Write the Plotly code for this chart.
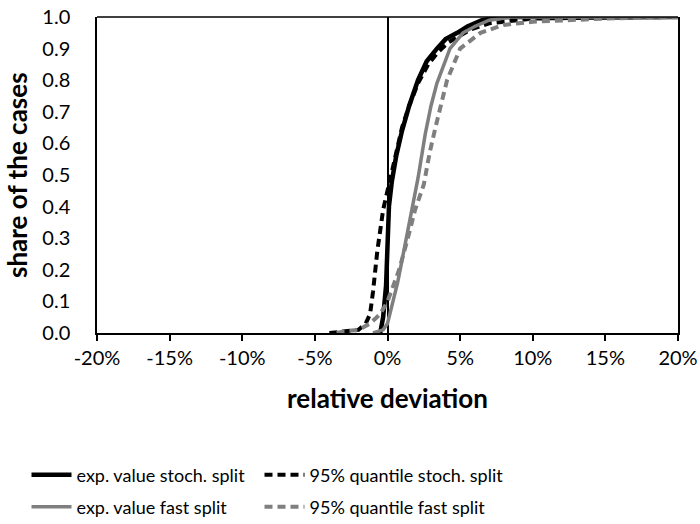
import numpy as np
import plotly.graph_objects as go

# relative deviation in percent, share of the cases
x_exp_stoch = [-0.5, -0.3, -0.1, 0.0, 0.1, 0.3, 0.6, 1.0, 1.5, 2.1, 2.7, 3.4, 4.0, 4.8, 5.5, 6.5, 8.0, 20.0]
y_exp_stoch = [0.0, 0.05, 0.15, 0.28, 0.40, 0.48, 0.56, 0.64, 0.72, 0.80, 0.86, 0.90, 0.93, 0.95, 0.97, 0.99, 1.0, 1.0]

x_q95_stoch = [-4.0, -3.0, -2.0, -1.5, -1.2, -1.0, -0.7, -0.3, 0.0, 0.3, 0.6, 1.0, 1.5, 2.1, 2.8, 3.5, 4.2, 5.0, 5.7, 7.0, 10.0, 15.0, 20.0]
y_q95_stoch = [0.0, 0.005, 0.01, 0.03, 0.06, 0.13, 0.26, 0.39, 0.45, 0.50, 0.57, 0.65, 0.72, 0.79, 0.85, 0.89, 0.92, 0.94, 0.96, 0.98, 0.995, 0.998, 1.0]

x_exp_fast = [-1.0, -0.3, 0.0, 0.4, 0.7, 1.0, 1.4, 1.8, 2.1, 2.6, 3.0, 3.4, 4.3, 5.2, 6.0, 7.0, 8.5, 20.0]
y_exp_fast = [0.0, 0.01, 0.03, 0.10, 0.16, 0.23, 0.32, 0.42, 0.49, 0.63, 0.72, 0.79, 0.90, 0.95, 0.97, 0.99, 1.0, 1.0]

x_q95_fast = [-3.5, -3.0, -2.0, -1.2, -0.5, 0.0, 0.4, 0.8, 1.4, 1.9, 2.5, 2.9, 3.3, 3.6, 4.1, 5.0, 6.4, 8.0, 10.0, 15.0, 20.0]
y_q95_fast = [0.0, 0.005, 0.01, 0.03, 0.06, 0.10, 0.15, 0.20, 0.30, 0.39, 0.47, 0.57, 0.65, 0.71, 0.80, 0.90, 0.95, 0.975, 0.985, 0.995, 1.0]

names = ["exp. value stoch. split", "95% quantile stoch. split",
         "exp. value fast split", "95% quantile fast split"]

x_tick_vals = [-20, -15, -10, -5, 0, 5, 10, 15, 20]
x_tick_text = ["-20%", "-15%", "-10%", "-5%", "0%", "5%", "10%", "15%", "20%"]
y_tick_vals = [0.0, 0.1, 0.2, 0.3, 0.4, 0.5, 0.6, 0.7, 0.8, 0.9, 1.0]

FONT = "Lato"
BLACK = "#000000"
GREY = "#7f7f7f"

W, H = 700, 524
ML, MR, MT, MB = 97, 22, 17, 191

fig = go.Figure()
series = [
    (x_exp_stoch, y_exp_stoch, names[0], BLACK, "solid", 4.5, "legend"),
    (x_q95_stoch, y_q95_stoch, names[1], BLACK, "dash", 4, "legend2"),
    (x_exp_fast, y_exp_fast, names[2], GREY, "solid", 3.5, "legend3"),
    (x_q95_fast, y_q95_fast, names[3], GREY, "dash", 4, "legend4"),
]
for xs, ys, nm, col, dash, w, lg in series:
    fig.add_trace(go.Scatter(
        x=np.array(xs) / 100.0, y=ys, name=nm, mode="lines",
        line=dict(color=col, width=w, dash="8px,5px" if dash == "dash" else "solid"),
        legend=lg,
    ))

legend_common = dict(orientation="v", font=dict(family=FONT, size=18, color="#000"),
                     bgcolor="rgba(0,0,0,0)",
                     xref="container", yref="container",
                     xanchor="left", yanchor="middle", itemwidth=40)
col_x = [26.5 / W, 259.5 / W]
row_y = [1 - 475 / H, 1 - 507 / H]

plot_w = W - ML - MR

fig.update_layout(
    width=W, height=H,
    margin=dict(l=ML, r=MR, t=MT, b=MB, autoexpand=False),
    paper_bgcolor="white", plot_bgcolor="white",
    font=dict(family=FONT, size=20, color="#000"),
    showlegend=True,
    legend=dict(**legend_common, x=col_x[0], y=row_y[0]),
    legend2=dict(**legend_common, x=col_x[1], y=row_y[0]),
    legend3=dict(**legend_common, x=col_x[0], y=row_y[1]),
    legend4=dict(**legend_common, x=col_x[1], y=row_y[1]),
    xaxis=dict(
        range=[-0.2, 0.2], tickvals=np.array(x_tick_vals) / 100.0, ticktext=x_tick_text,
        showgrid=False, zeroline=True, zerolinecolor=BLACK, zerolinewidth=1.5,
        showline=True, linecolor=BLACK, linewidth=2, mirror=False,
        ticks="outside", ticklen=6, tickwidth=2, tickcolor=BLACK,
        tickfont=dict(family=FONT, size=20),
        title=dict(text="<b>relative deviation</b>", font=dict(family=FONT, size=26), standoff=22),
    ),
    yaxis=dict(
        range=[0, 1], tickvals=y_tick_vals, tickformat=".1f",
        showgrid=False, zeroline=False,
        showline=True, linecolor=BLACK, linewidth=1.5, mirror=True,
        ticks="", ticklabelstandoff=21,
        tickfont=dict(family=FONT, size=20),
    ),
    annotations=[dict(text="<b>share of the cases</b>", textangle=-90,
                      xref="paper", yref="paper", x=(17 - ML) / plot_w, y=0.5,
                      xanchor="center", yanchor="middle", showarrow=False,
                      font=dict(family=FONT, size=26, color="#000"))],
    shapes=[dict(type="line", xref="paper", yref="paper", x0=0, x1=1, y0=1, y1=1,
                 line=dict(color=BLACK, width=1.5))],
)
fig.write_html("out.html", config={"displayModeBar": False},
               post_script="document.body.style.margin='0';")
